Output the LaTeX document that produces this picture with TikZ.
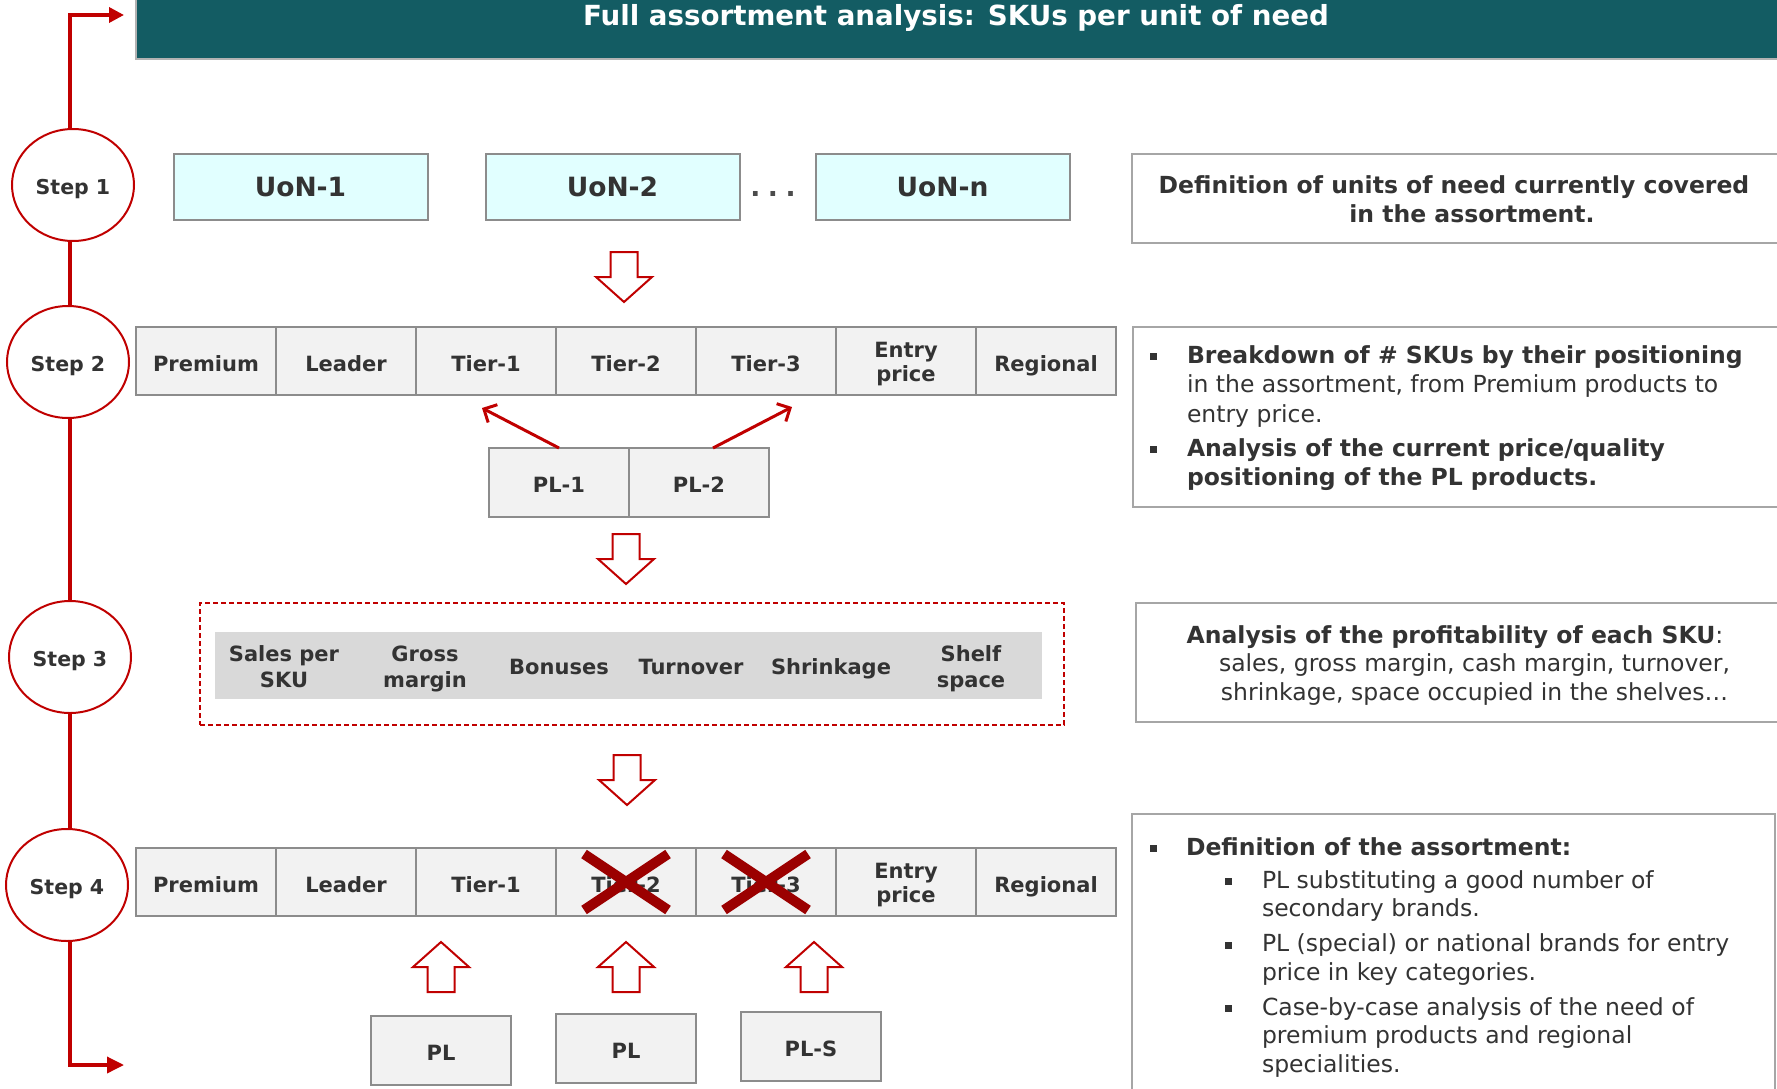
\documentclass[tikz,border=0pt]{standalone}
\usepackage{fontspec}
\setmainfont{DejaVu Sans}
\usetikzlibrary{arrows.meta,shapes.geometric,calc}
\definecolor{titlebg}{HTML}{135C63}
\definecolor{rd}{HTML}{C00000}
\definecolor{xrd}{HTML}{9B0000}
\definecolor{txt}{HTML}{333333}
\definecolor{cellbg}{HTML}{F2F2F2}
\definecolor{cellbd}{HTML}{8C8C8C}
\definecolor{uonbg}{HTML}{E1FFFF}
\definecolor{barbg}{HTML}{D9D9D9}
\definecolor{boxbd}{HTML}{A6A6A6}
\newcommand\fs[2]{\fontsize{#1pt}{#2pt}\selectfont}
\newcommand\bul{\raisebox{3pt}{\rule{7pt}{7pt}}}
\begin{document}
\begin{tikzpicture}[x=1pt,y=-1pt,
  every node/.style={inner sep=0pt, outer sep=0pt, text=txt},
  redline/.style={draw=rd, line width=3.5pt},
  stepell/.style={ellipse, draw=rd, line width=2pt, fill=white, minimum width=122pt, minimum height=112pt, font=\fs{20.5}{24}\bfseries, text height=19.5pt, text depth=0pt},
  uon/.style={rectangle, draw=cellbd, fill=uonbg, line width=2pt, minimum width=254pt, minimum height=66pt, font=\fs{26.5}{30}\bfseries, text height=19.3pt, text depth=0pt},
  cell/.style={rectangle, draw=cellbd, fill=cellbg, line width=2pt, minimum width=140pt, minimum height=68pt, font=\fs{21}{24}\bfseries, text height=20pt, text depth=0pt},
  cell2/.style={cell, text height=15.3pt, text depth=23.3pt},
  item/.style={anchor=base, font=\fs{21}{26}\bfseries},
  rbox/.style={rectangle, draw=boxbd, line width=2pt, fill=white, anchor=north west},
  rtext/.style={font=\fs{23.5}{29.5}},
  xmark/.style={draw=xrd, line width=10pt},
  blk/.style={draw=rd, line width=2pt, fill=white, line join=miter},
  plarrow/.style={draw=rd, line width=3pt, -{Straight Barb[length=10pt,width=20pt]}},
  downblk/.pic={\path[blk] (-13.5,0) -- (13.5,0) -- (13.5,25) -- (28,25) -- (0,50) -- (-28,25) -- (-13.5,25) -- cycle;},
  upblk/.pic={\path[blk] (0,0) -- (28,25) -- (13.5,25) -- (13.5,50) -- (-13.5,50) -- (-13.5,25) -- (-28,25) -- cycle;}
]
\useasboundingbox (0,0) rectangle (1777,1089);

% title bar
\node[fill=titlebg, draw=gray!60, line width=1.5pt, minimum width=1670pt, minimum height=76pt, anchor=south west] (titlebar) at (136,59) {};
\node[anchor=base, font=\fs{27.7}{32}\bfseries, text=white] (ttl) at (956,26) {Full assortment analysis: SKUs per unit of need};

% red timeline
\coordinate (ta) at (124,15);
\coordinate (bt) at (70,1065);
\coordinate (ba) at (124,1065);
\draw[redline, {Triangle[length=15pt,width=15pt]}-{Triangle[length=17pt,width=16pt]}] (ta) -| (bt) -- (ba);

\node[stepell] (s1) at (73,185) {Step 1};
\node[stepell] (s2) at (68,362) {Step 2};
\node[stepell] (s3) at (70,657) {Step 3};
\node[stepell] (s4) at (67,885) {Step 4};

% step 1
\node[uon] (u1) at (300.5,187) {UoN-1};
\node[uon] (u2) at (612.5,187) {UoN-2};
\node[anchor=base, font=\fs{26.5}{30}\bfseries, text=black!70] (dots) at (773,196) {.\kern7.5pt.\kern7.5pt.};
\node[uon] (un) at (942.5,187) {UoN-n};
\pic at (624,252) {downblk};

% step 2
\node[cell] (a1) at (206,361) {Premium};
\node[cell] (a2) at (346,361) {Leader};
\node[cell] (a3) at (486,361) {Tier-1};
\node[cell] (a4) at (626,361) {Tier-2};
\node[cell] (a5) at (766,361) {Tier-3};
\node[cell2] (a6) at (906,361) {\begin{tabular}[t]{@{}c@{}}Entry\\price\end{tabular}};
\node[cell] (a7) at (1046,361) {Regional};

\node[cell, minimum height=69pt] (pl1) at (559,482.5) {PL-1};
\node[cell, minimum height=69pt] (pl2) at (699,482.5) {PL-2};
\coordinate (tip1) at (482,408);
\coordinate (tip2) at (792,407);
\draw[plarrow] (pl1.north) -- (tip1);
\draw[plarrow] ([xshift=14pt]pl2.north) -- (tip2);
\pic at (626,534) {downblk};

% step 3
\node[draw=rd, dash pattern=on 5pt off 3pt, line width=1.5pt, minimum width=864pt, minimum height=122pt] (dbox) at (632,664) {};
\node[fill=barbg, minimum width=827pt, minimum height=67pt] (gbar) at (628.5,665.5) {};
\node[item] (i1) at (284,661) {\begin{tabular}[t]{@{}c@{}}Sales per\\SKU\end{tabular}};
\node[item] (i2) at (425,661) {\begin{tabular}[t]{@{}c@{}}Gross\\margin\end{tabular}};
\node[item] (i3) at (559,674) {Bonuses};
\node[item] (i4) at (691,674) {Turnover};
\node[item] (i5) at (831,674) {Shrinkage};
\node[item] (i6) at (971,661) {\begin{tabular}[t]{@{}c@{}}Shelf\\space\end{tabular}};
\pic at (627,755) {downblk};

% step 4
\node[cell] (b1) at (206,882) {Premium};
\node[cell] (b2) at (346,882) {Leader};
\node[cell] (b3) at (486,882) {Tier-1};
\node[cell] (b4) at (626,882) {Tier-2};
\node[cell] (b5) at (766,882) {Tier-3};
\node[cell2] (b6) at (906,882) {\begin{tabular}[t]{@{}c@{}}Entry\\price\end{tabular}};
\node[cell] (b7) at (1046,882) {Regional};
\draw[xmark] ($(b4.center)+(-42,-28)$) -- ($(b4.center)+(42,28)$);
\draw[xmark] ($(b4.center)+(-42,28)$) -- ($(b4.center)+(42,-28)$);
\draw[xmark] ($(b5.center)+(-42,-28)$) -- ($(b5.center)+(42,28)$);
\draw[xmark] ($(b5.center)+(-42,28)$) -- ($(b5.center)+(42,-28)$);

\node[cell, minimum height=69pt] (p1) at (441,1050.5) {PL};
\node[cell, minimum height=69pt] (p2) at (626,1048) {PL};
\node[cell, minimum height=69pt] (p3) at (811,1046) {PL-S};
\pic at (441,942) {upblk};
\pic at (626,942) {upblk};
\pic at (814,942) {upblk};

% right boxes
\node[rbox, minimum width=660pt, minimum height=89pt] (r1) at (1132,154) {};
\node[anchor=base, font=\fs{23.5}{29}\bfseries] (t1) at (1454,193) {\begin{tabular}[t]{@{}c@{}}Definition of units of need currently covered\\\hspace*{36pt}in the assortment.\end{tabular}};

\node[rbox, minimum width=660pt, minimum height=180pt] (r2) at (1133,327) {};
\node[anchor=base west, rtext] (t2) at (1150,363) {\begin{tabular}[t]{@{}p{37pt}@{}l@{}}
\bul & \textbf{Breakdown of \# SKUs by their positioning}\\
 & in the assortment, from Premium products to\\
 & entry price.\\[4.5pt]
\bul & \textbf{Analysis of the current price/quality}\\
 & \textbf{positioning of the PL products.}
\end{tabular}};

\node[rbox, minimum width=660pt, minimum height=119pt] (r3) at (1136,603) {};
\node[anchor=base, font=\fs{23.5}{28.5}] (t3) at (1455,643) {\begin{tabular}[t]{@{}c@{}}
\textbf{Analysis of the profitability of each SKU}:\\
\hspace*{39pt}sales, gross margin, cash margin, turnover,\\
\hspace*{39pt}shrinkage, space occupied in the shelves…
\end{tabular}};

\node[rbox, minimum width=643pt, minimum height=300pt] (r4) at (1132,814) {};
\node[anchor=base west, font=\fs{23.5}{28.5}] (t4) at (1150,855) {\begin{tabular}[t]{@{}p{36pt}@{}p{39pt}@{}p{37pt}@{}l@{}}
\bul & \multicolumn{3}{@{}l@{}}{\textbf{Definition of the assortment:}}\\[4.5pt]
 & & \bul & PL substituting a good number of\\
 & & & secondary brands.\\[6.5pt]
 & & \bul & PL (special) or national brands for entry\\
 & & & price in key categories.\\[6.5pt]
 & & \bul & Case-by-case analysis of the need of\\
 & & & premium products and regional\\
 & & & specialities.
\end{tabular}};
\end{tikzpicture}
\end{document}
